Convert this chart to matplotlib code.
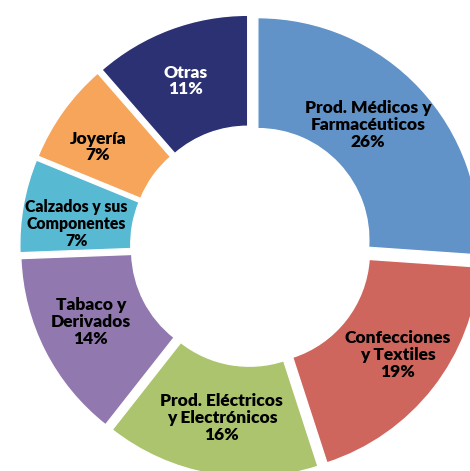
import matplotlib
matplotlib.use("Agg")
import matplotlib.pyplot as plt
import numpy as np

categories = ["Prod. Médicos y\nFarmacéuticos", "Confecciones\ny Textiles",
              "Prod. Eléctricos\ny Electrónicos", "Tabaco y\nDerivados",
              "Calzados y sus\nComponentes", "Joyería", "Otras"]
# shares (%)
values = [26.1, 18.9, 15.6, 13.8, 6.8, 7.4, 11.4]
colors = ["#6193C8", "#CF665E", "#ABC46D", "#9179AF", "#58B9D3", "#F6A55A", "#2B3173"]
text_colors = ["black"] * 6 + ["white"]
label_pos = [(0.527, 0.545), (0.662, -0.491), (-0.131, -0.775), (-0.721, -0.342),
             (-0.788, 0.099), (-0.689, 0.446), (-0.293, 0.743)]
label_sizes = [12.5, 12.5, 12.5, 12.5, 11.3, 12.5, 12.5]

plt.rcParams['font.family'] = ['Lato', 'DejaVu Sans']

fig = plt.figure(figsize=(4.70, 4.71), dpi=100)
ax = fig.add_axes([0, 0, 1, 1])
ax.pie(values, colors=colors, startangle=90, counterclock=False,
       explode=[0.042] * len(values), radius=1.0, normalize=True,
       wedgeprops=dict(width=0.5, edgecolor="white", linewidth=1.0))
ax.set_xlim(-251 / 222, (470 - 251) / 222)
ax.set_ylim(-(471 - 246) / 222, 246 / 222)
ax.set_aspect("equal")
ax.axis("off")

for cat, v, (x, y), tc, fs in zip(categories, values, label_pos, text_colors, label_sizes):
    ax.text(x, y, f"{cat}\n{round(v):d}%", ha="center", va="center", fontsize=fs,
            fontweight="heavy", color=tc, linespacing=1.05)

fig.savefig("out.png", dpi=100)
